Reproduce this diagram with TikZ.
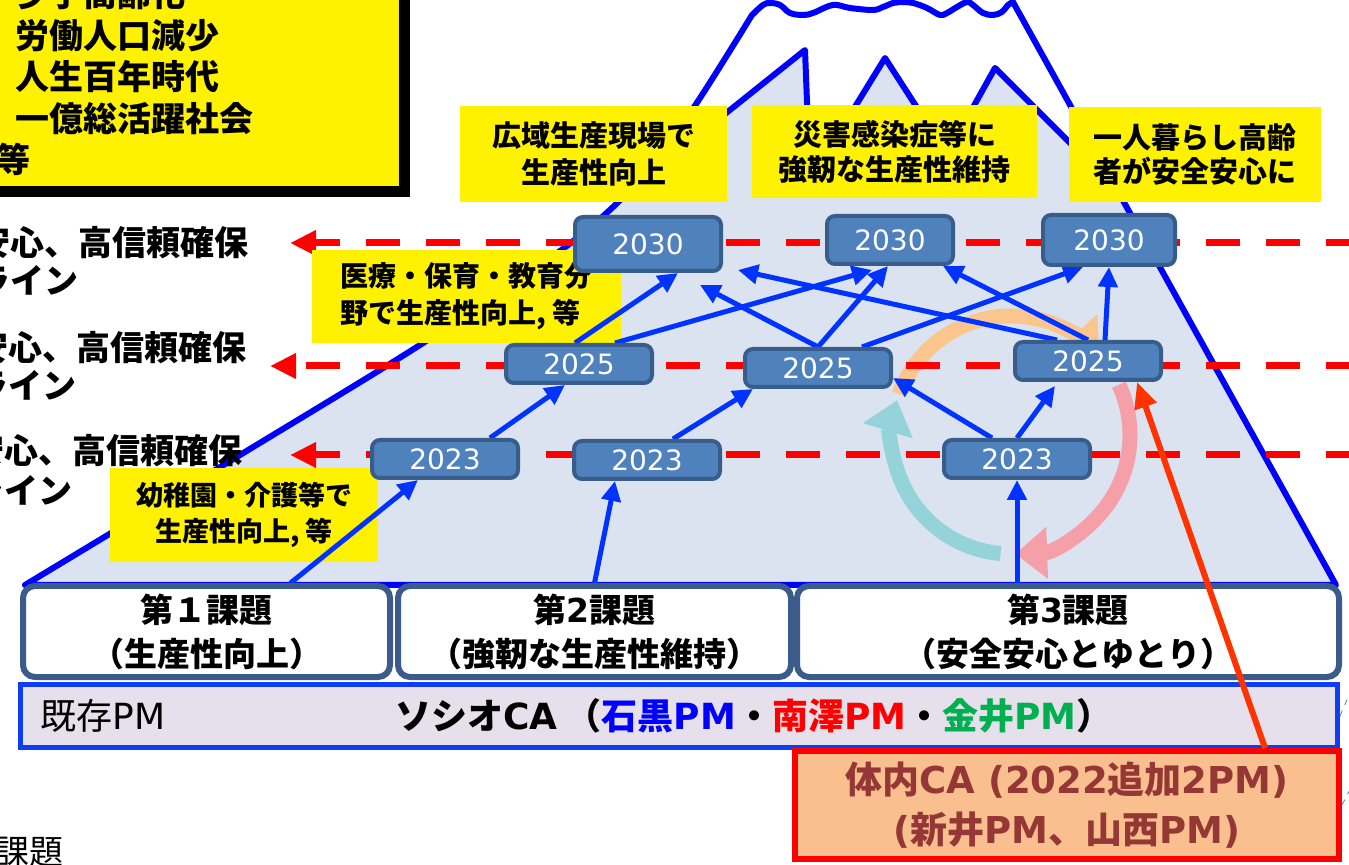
\documentclass[tikz,border=0pt]{standalone}
\usepackage{fontspec}
\setmainfont{Noto Sans CJK JP}
\newfontfamily\latfont{DejaVu Sans}
\newcommand\lat[1]{{\latfont #1}}
\usetikzlibrary{arrows.meta,calc}

\definecolor{mtblue}{HTML}{0000FF}
\definecolor{mtfill}{HTML}{DBE3F1}
\definecolor{yearfill}{HTML}{4F81BD}
\definecolor{yearedge}{HTML}{385D8A}
\definecolor{flowblue}{HTML}{0033FF}
\definecolor{taskedge}{HTML}{3B5B8A}
\definecolor{barfill}{HTML}{E5E0EC}
\definecolor{barblue}{HTML}{0F3CF5}
\definecolor{peach}{HTML}{F9BF8F}
\definecolor{brownred}{HTML}{953735}
\definecolor{pmblue}{HTML}{0000FF}
\definecolor{pmred}{HTML}{FF0000}
\definecolor{pmgreen}{HTML}{00B050}
\definecolor{redarrow}{HTML}{FF3300}
\definecolor{arcorange}{HTML}{FBC68E}
\definecolor{arcpink}{HTML}{F59FA8}
\definecolor{arcteal}{HTML}{93D3D9}

\pgfdeclarelayer{back}
\pgfdeclarelayer{front}
\pgfsetlayers{back,main,front}

\begin{document}
\begin{tikzpicture}[x=0.5pt,y=-0.5pt,
  mtline/.style={draw=mtblue,line width=3pt,line join=round},
  limit/.style={draw=red,line width=3.5pt,dash pattern=on 17pt off 13pt,-{Triangle[length=13pt,width=12pt]}},
  cyclearc/.style={line width=7.5pt,-{Triangle[length=16pt,width=25pt]}},
  txt/.style={inner sep=0pt},
  note/.style={fill=yellow,inner sep=0pt,align=center,font=\bfseries\fontsize{14.5pt}{18.5pt}\selectfont},
  yearbox/.style={draw=yearedge,fill=yearfill,line width=2pt,rounded corners=4pt,text=white,
    font=\latfont\fontsize{14pt}{16pt}\selectfont,minimum width=73pt,minimum height=19pt,inner sep=0pt},
  flow/.style={draw=flowblue,line width=2.5pt,-{Triangle[length=10pt,width=9.5pt]}},
  task/.style={draw=taskedge,fill=white,line width=3pt,rounded corners=6pt,align=center,
    font=\bfseries\fontsize{16.5pt}{22pt}\selectfont,minimum height=45.5pt,inner sep=0pt}]
\useasboundingbox (0,0) rectangle (1349,865);

\begin{pgfonlayer}{back}
\fill[white] (0,0) rectangle (1349,865);
% mountain: lower slopes and snow cap
\fill[mtfill] plot[smooth,tension=0.5] coordinates {(25,585) (240,455) (420,345) (560,251) (630,190)}
  -- (805,50) -- (810,180) -- (885,58) -- (947,154) -- (995,68) -- (1122,195) -- (1336,585) -- cycle;
\draw[mtline] plot[smooth,tension=0.5] coordinates {(25,585) (240,455) (420,345) (560,251) (630,190) (690,113) (752,15)}
  -- plot[smooth,tension=0.6] coordinates {(752,15) (763,5) (770,3) (780,5) (790,13) (803,15) (813,13)
     (833,5) (850,8) (873,10) (883,7) (893,3) (900,2) (913,3) (927,8) (940,15) (947,13) (957,7)
     (967,2) (973,5) (983,13) (993,15) (1002,12) (1008,5) (1013,2)}
  -- (1336,585) -- cycle;
\draw[mtline] (630,190) -- (805,50) -- (810,180) -- (885,58) -- (947,154) -- (995,68) -- (1122,195);

% improvement cycle
\coordinate (pdca) at (1011,435);
\draw[cyclearc,draw=arcorange] ($(pdca)+(200:119)$) arc[start angle=200,end angle=318,radius=119];
\draw[cyclearc,draw=arcpink] ($(pdca)+(335:119)$) arc[start angle=335,end angle=448,radius=119];
\draw[cyclearc,draw=arcteal] ($(pdca)+(95:119)$) arc[start angle=95,end angle=197,radius=119];

% reliability lines
\draw[limit] (1360,243) -- (290,243);
\draw[limit] (1360,366) -- (270,366);
\draw[limit] (1360,455) -- (290,455);

\node[txt,anchor=west,align=left,font=\bfseries\fontsize{17pt}{19pt}\selectfont] (lim1) at (-24,261) {安心、高信頼確保\\ライン};
\node[txt,anchor=west,align=left,font=\bfseries\fontsize{17pt}{19pt}\selectfont] (lim2) at (-26,366) {安心、高信頼確保\\ライン};
\node[txt,anchor=west,align=left,font=\bfseries\fontsize{17pt}{20pt}\selectfont] (lim3) at (-30,470) {安心、高信頼確保\\ライン};

% background issues
\fill[black] (-20,-20) rectangle (410,197);
\node[draw=black,fill=yellow,line width=2pt,minimum width=209.5pt,minimum height=103pt,inner sep=0pt] (trends) at (191.5,85) {};
\node[txt,anchor=west,align=left,font=\bfseries\fontsize{17pt}{20.75pt}\selectfont] (trendlist) at (15,77)
  {少子高齢化\\労働人口減少\\人生百年時代\\一億総活躍社会\\\hspace*{-9.5pt}等};

% goals
\node[note,minimum width=133.5pt,minimum height=48pt] (goal1) at (593.5,154) {広域生産現場で\\生産性向上};
\node[note,minimum width=142.5pt,minimum height=46.5pt,font=\bfseries\fontsize{14.5pt}{17.5pt}\selectfont] (goal2) at (894.5,151.5) {災害感染症等に\\強靭な生産性維持};
\node[note,minimum width=126pt,minimum height=47.5pt,font=\bfseries\fontsize{14.5pt}{17pt}\selectfont] (goal3) at (1195,154.5) {一人暮らし高齢\\者が安全安心に};
\node[note,minimum width=154.5pt,minimum height=46.5pt,align=left,font=\bfseries\fontsize{14pt}{18.5pt}\selectfont] (med) at (466.5,296.5) {医療・保育・教育分\\野で生産性向上, 等};
\node[note,minimum width=134pt,minimum height=47pt,font=\bfseries\fontsize{13.5pt}{18pt}\selectfont] (kids) at (244,515) {幼稚園・介護等で\\生産性向上, 等};
\end{pgfonlayer}

\begin{pgfonlayer}{front}
% milestones
\node[yearbox,minimum width=73pt,minimum height=27pt] (y2030a) at (648,244) {2030};
\node[yearbox,minimum width=63pt,minimum height=24pt] (y2030b) at (890,240) {2030};
\node[yearbox,minimum width=66pt,minimum height=25pt] (y2030c) at (1109,240) {2030};
\node[yearbox] (y2025a) at (579,364) {2025};
\node[yearbox] (y2025b) at (818,368) {2025};
\node[yearbox] (y2025c) at (1088,361) {2025};
\node[yearbox] (y2023a) at (445,459) {2023};
\node[yearbox] (y2023b) at (647,460) {2023};
\node[yearbox] (y2023c) at (1017,459) {2023};

% challenges
\node[task,minimum width=183.5pt] (t1) at (206.5,631.5) {第１課題\\（生産性向上）};
\node[task,minimum width=196.5pt] (t2) at (594.5,631.5) {第\lat{2}課題\\（強靭な生産性維持）};
\node[task,minimum width=271pt] (t3) at (1068,631.5) {第\lat{3}課題\\（安全安心とゆとり）};

% project managers
\node[draw=barblue,fill=barfill,line width=2.5pt,minimum width=658.5pt,minimum height=31.5pt,inner sep=0pt] (bar) at (679,716) {};
\node[txt,anchor=west,font=\fontsize{18pt}{20pt}\selectfont] (barpm) at (40,716) {既存\lat{PM}};
\node[txt,font=\bfseries\fontsize{18pt}{20pt}\selectfont] (barca) at (754,716)
  {ソシオ\lat{CA}\ （\textcolor{pmblue}{石黒\lat{PM}}・\textcolor{pmred}{南澤\lat{PM}}・\textcolor{pmgreen}{金井\lat{PM}}）};
\node[draw=red,fill=peach,line width=3pt,minimum width=272pt,minimum height=54pt,inner sep=0pt,
  text=brownred,align=center,font=\bfseries\fontsize{18.5pt}{25pt}\selectfont] (tainai) at (1067,805)
  {体内\lat{CA (2022}追加\lat{2PM)}\\\lat{(}新井\lat{PM}、山西\lat{PM)}};
\node[txt,anchor=east,font=\fontsize{17pt}{19pt}\selectfont] (kadai) at (64,852) {課題};

\draw[draw=redarrow,line width=3pt,-{Triangle[length=13pt,width=11pt]}] ($(tainai.north)+(198,0)$) -- ($(y2025c.south east)+(-26,0)$);
\coordinate (offa) at (1352,688);
\coordinate (offb) at (1354,782);
\draw[yearfill,thin,dashed] (bar.east) -- (offa);
\draw[yearfill,thin,dashed] (tainai.east) -- (offb);
\end{pgfonlayer}

% steps between milestones
\draw[flow] ($(t1.north)+(84,0)$) -- ($(y2023a.south)+(-27,0)$);
\draw[flow] (t2.north) -- ($(y2023b.south)+(-32,0)$);
\draw[flow] ($(t3.north)+(-51,0)$) -- (y2023c.south);
\draw[flow] ($(y2023a.north)+(45,0)$) -- ($(y2025a.south)+(-14,0)$);
\draw[flow] ($(y2023b.north)+(26,0)$) -- ($(y2025b.south)+(-65,0)$);
\draw[flow] ($(y2023c.north)+(-25,0)$) -- ($(y2025b.east)+(0,10)$);
\draw[flow] (y2023c.north) -- ($(y2025c.south)+(-33,4)$);
\draw[flow] ($(y2025a.north)+(-4,0)$) -- ($(y2030a.south)+(30,0)$);
\draw[flow] ($(y2025a.north)+(36,0)$) -- ($(y2030b.south)+(-18,4)$);
\draw[flow] (y2025b.north) -- ($(y2030a.south east)+(-23,12)$);
\draw[flow] (y2025b.north) -- ($(y2030b.south)+(-2,0)$);
\draw[flow] ($(y2025b.north)+(44,0)$) -- ($(y2030c.south)+(-26,0)$);
\draw[flow] ($(y2025c.north)+(17,0)$) -- (y2030c.south);
\draw[flow] (y2025c.north) -- ($(y2030b.south east)+(-12,0)$);
\draw[flow] ($(y2025c.north)+(-31,0)$) -- ($(y2030a.south east)+(15,-3)$);
\end{tikzpicture}
\end{document}
